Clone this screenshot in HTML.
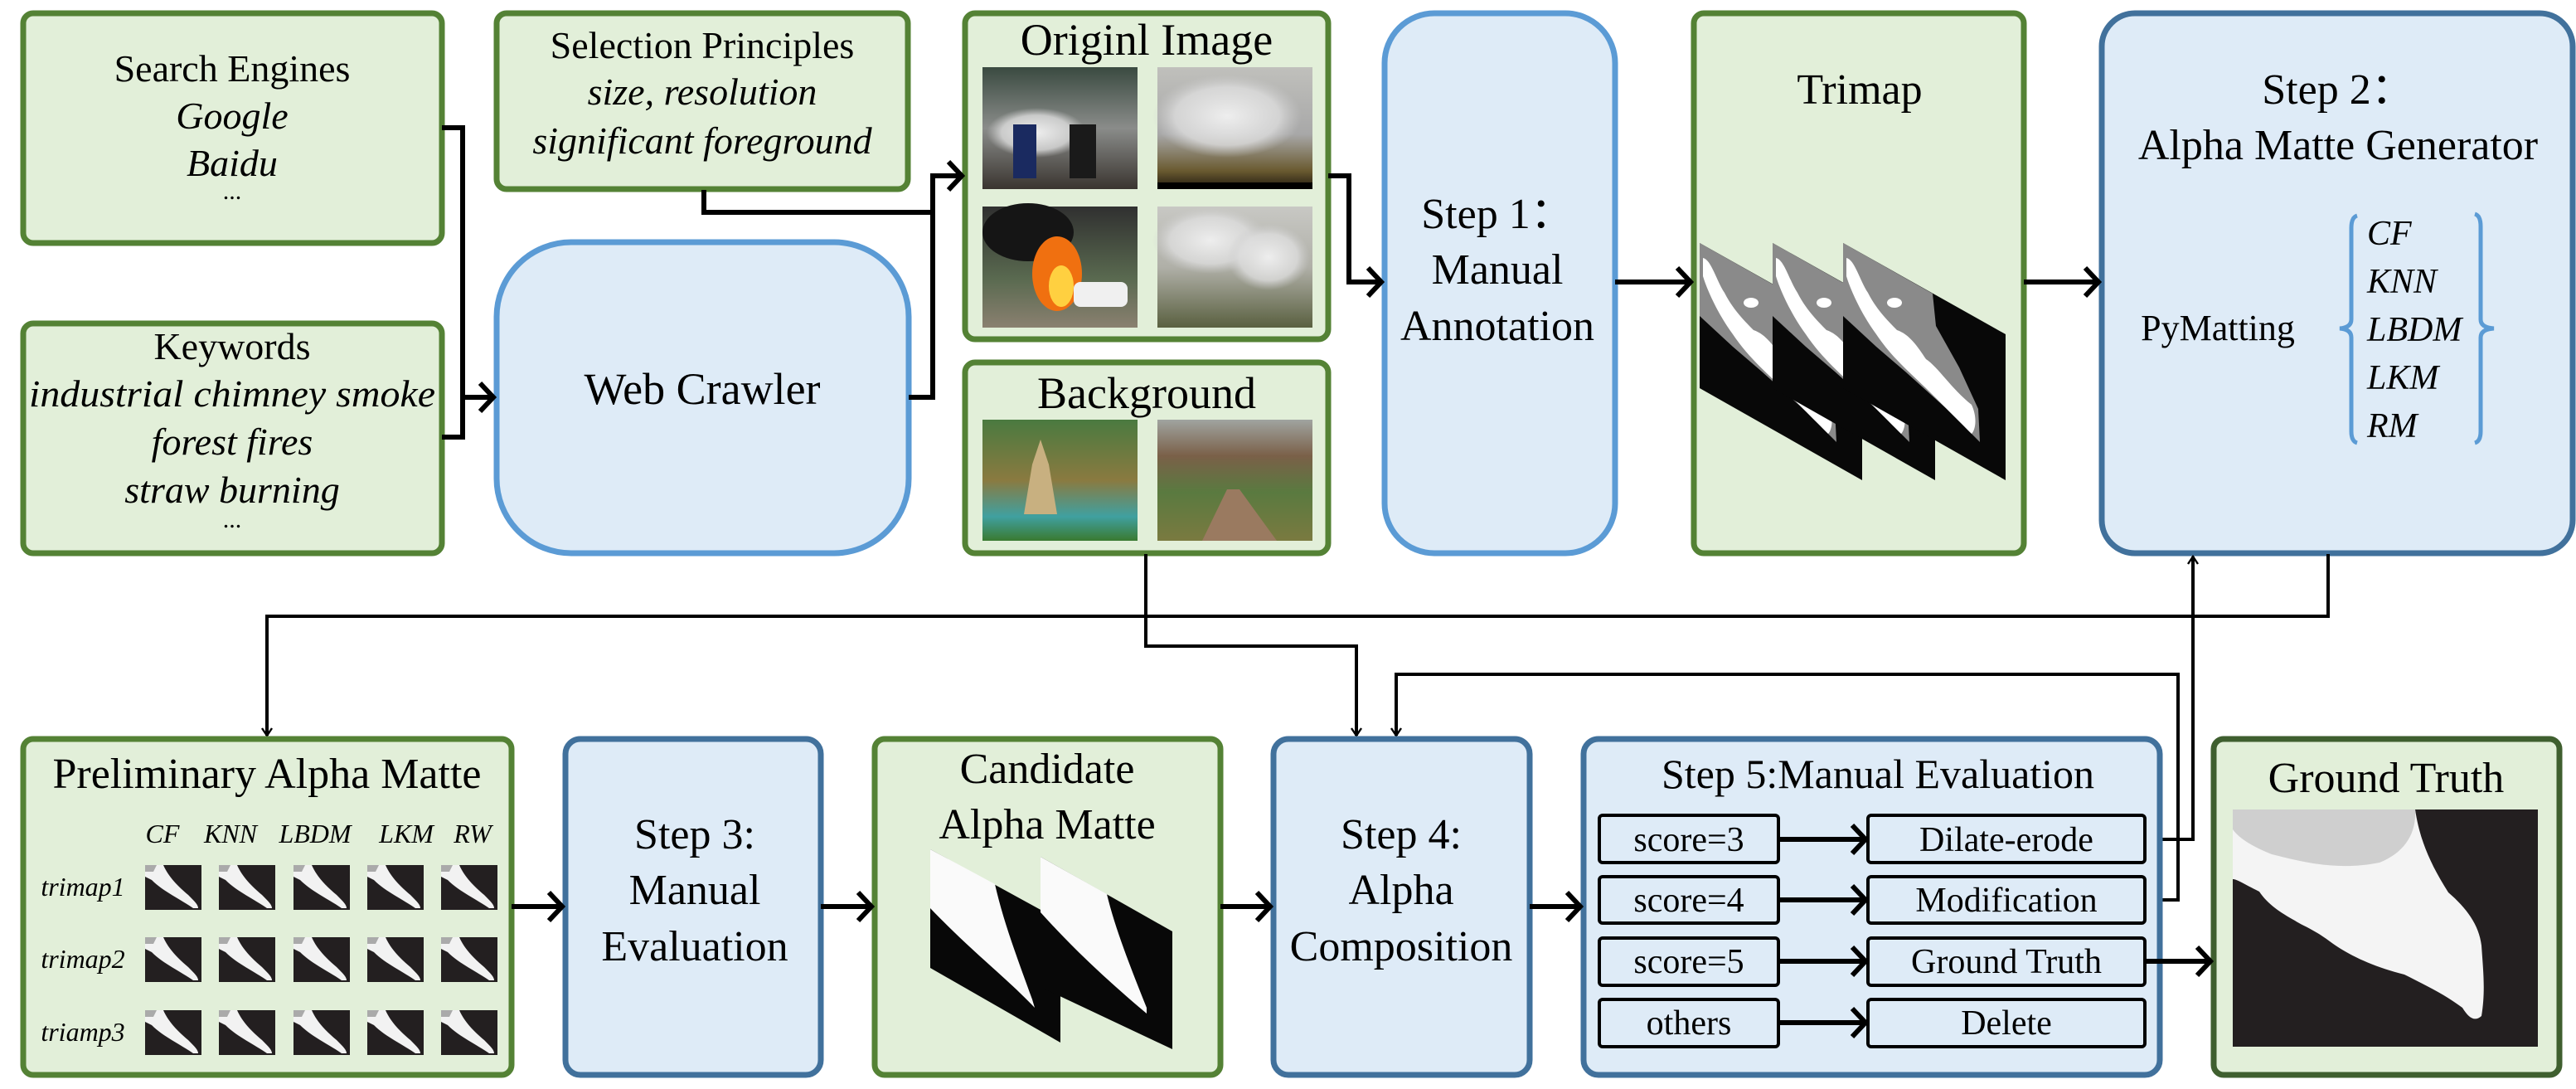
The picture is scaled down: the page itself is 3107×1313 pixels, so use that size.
<!DOCTYPE html>
<html><head><meta charset="utf-8"><style>
html,body{margin:0;padding:0;background:#fff;}
svg{display:block;}
svg text{font-family:"Liberation Serif","DejaVu Serif","Times New Roman",serif;fill:#000;}
</style></head><body>
<svg width="3107" height="1313" viewBox="0 0 3107 1313" xmlns="http://www.w3.org/2000/svg" font-family="Liberation Serif, DejaVu Serif, serif">
<defs>
<marker id="ar" markerWidth="12" markerHeight="14" refX="10" refY="7" orient="auto" markerUnits="userSpaceOnUse" viewBox="0 0 12 14">
<polyline points="1,1 10,7 1,13" fill="none" stroke="#000" stroke-width="2.4"/>
</marker>
<marker id="arB" markerWidth="24" markerHeight="40" refX="20" refY="20" orient="auto" markerUnits="userSpaceOnUse">
<polyline points="4,3 20,20 4,37" fill="none" stroke="#000" stroke-width="6"/>
</marker>
<linearGradient id="g1" x1="0" y1="0" x2="0" y2="1"><stop offset="0" stop-color="#3a4a40"/><stop offset=".5" stop-color="#8a8c8a"/><stop offset="1" stop-color="#3a3530"/></linearGradient>
<linearGradient id="g2" x1="0" y1="0" x2="0" y2="1"><stop offset="0" stop-color="#c0c0bc"/><stop offset=".55" stop-color="#a8a8a8"/><stop offset=".85" stop-color="#6a5a30"/><stop offset="1" stop-color="#201a10"/></linearGradient>
<linearGradient id="g3" x1="0" y1="0" x2="0" y2="1"><stop offset="0" stop-color="#303030"/><stop offset=".6" stop-color="#5a6a50"/><stop offset="1" stop-color="#8a8070"/></linearGradient>
<linearGradient id="g4" x1="0" y1="0" x2="0" y2="1"><stop offset="0" stop-color="#c8c8c4"/><stop offset=".5" stop-color="#b0b0a8"/><stop offset="1" stop-color="#5a6040"/></linearGradient>
<linearGradient id="bg1" x1="0" y1="0" x2="0" y2="1"><stop offset="0" stop-color="#4a7a40"/><stop offset=".5" stop-color="#8a7a40"/><stop offset=".8" stop-color="#40a0a0"/><stop offset="1" stop-color="#3a7a30"/></linearGradient>
<linearGradient id="bg2" x1="0" y1="0" x2="0" y2="1"><stop offset="0" stop-color="#a0a4a0"/><stop offset=".3" stop-color="#7a6048"/><stop offset=".6" stop-color="#5a7a40"/><stop offset="1" stop-color="#7a7a40"/></linearGradient>
<radialGradient id="sm" cx=".5" cy=".5" r=".5"><stop offset="0" stop-color="#eeeeee"/><stop offset=".7" stop-color="#dddddd" stop-opacity=".8"/><stop offset="1" stop-color="#cccccc" stop-opacity="0"/></radialGradient>
<g id="tp">
<polygon points="0,0 196,110 196,286 0,175" fill="#080808"/>
<polygon points="0,0 108,61 112,100 140,150 163,200 165,240 125,200 75,155 40,125 0,88" fill="#8a8a8a"/>
<path d="M4,18 C14,20 20,45 30,60 C40,80 55,95 65,105 C80,110 90,125 100,140 C115,150 130,175 155,195 C162,210 160,225 155,230 C140,215 120,195 105,180 C85,160 60,140 40,110 C25,90 10,60 4,40Z" fill="#fff"/>
<ellipse cx="62" cy="72" rx="9" ry="6" fill="#fff"/>
</g>
<g id="th">
<rect width="68" height="54" fill="#231f20"/>
<path d="M0,0 L22,0 C28,14 40,26 52,36 C60,44 64,48 64,52 L58,52 C44,42 22,32 8,18 L0,14Z" fill="#f2f2f2"/>
<path d="M0,0 L14,0 L10,8 L0,8Z" fill="#aaa"/>
</g>
</defs>

<!-- ===== Top row ===== -->
<rect x="28" y="16" width="505" height="277" rx="12" fill="#e2efd9" stroke="#548235" stroke-width="7"/>
<text x="280" y="98" font-size="46" text-anchor="middle">Search Engines</text>
<text x="280" y="155" font-size="46" text-anchor="middle" font-style="italic">Google</text>
<text x="280" y="212" font-size="46" text-anchor="middle" font-style="italic">Baidu</text>
<text x="280" y="240" font-size="30" text-anchor="middle">...</text>

<rect x="28" y="390" width="505" height="277" rx="12" fill="#e2efd9" stroke="#548235" stroke-width="7"/>
<text x="280" y="433" font-size="46" text-anchor="middle">Keywords</text>
<text x="280" y="490" font-size="46" text-anchor="middle" font-style="italic" textLength="490" lengthAdjust="spacingAndGlyphs">industrial chimney smoke</text>
<text x="280" y="548" font-size="46" text-anchor="middle" font-style="italic">forest fires</text>
<text x="280" y="606" font-size="46" text-anchor="middle" font-style="italic">straw burning</text>
<text x="280" y="636" font-size="30" text-anchor="middle">...</text>

<rect x="599" y="16" width="496" height="212" rx="12" fill="#e2efd9" stroke="#548235" stroke-width="7"/>
<text x="847" y="70" font-size="46" text-anchor="middle">Selection Principles</text>
<text x="847" y="126" font-size="46" text-anchor="middle" font-style="italic">size, resolution</text>
<text x="847" y="185" font-size="46" text-anchor="middle" font-style="italic">significant foreground</text>

<rect x="599" y="292" width="497" height="375" rx="90" fill="#deebf7" stroke="#5b9bd5" stroke-width="7"/>
<text x="847" y="487" font-size="54" text-anchor="middle">Web Crawler</text>

<!-- Original image -->
<rect x="1164" y="16" width="438" height="393" rx="12" fill="#e2efd9" stroke="#548235" stroke-width="7"/>
<text x="1383" y="66" font-size="54" text-anchor="middle">Originl Image</text>
<rect x="1185" y="81" width="187" height="147" fill="url(#g1)"/>
<ellipse cx="1250" cy="160" rx="60" ry="30" fill="url(#sm)"/>
<rect x="1222" y="150" width="28" height="65" fill="#1a2a60"/><rect x="1290" y="150" width="32" height="65" fill="#1a1a1a"/>
<rect x="1396" y="81" width="187" height="147" fill="url(#g2)"/>
<ellipse cx="1480" cy="140" rx="90" ry="50" fill="url(#sm)"/>
<rect x="1396" y="220" width="187" height="8" fill="#000"/>
<rect x="1185" y="249" width="187" height="146" fill="url(#g3)"/>
<ellipse cx="1240" cy="280" rx="55" ry="35" fill="#151515"/>
<ellipse cx="1275" cy="330" rx="30" ry="45" fill="#f07010"/>
<ellipse cx="1280" cy="345" rx="15" ry="25" fill="#ffd040"/>
<rect x="1295" y="340" width="65" height="30" rx="8" fill="#f0f0f0"/>
<rect x="1396" y="249" width="187" height="146" fill="url(#g4)"/>
<ellipse cx="1460" cy="290" rx="70" ry="40" fill="url(#sm)"/>
<ellipse cx="1530" cy="310" rx="50" ry="40" fill="url(#sm)"/>

<!-- Background -->
<rect x="1164" y="437" width="438" height="230" rx="12" fill="#e2efd9" stroke="#548235" stroke-width="7"/>
<text x="1383" y="492" font-size="54" text-anchor="middle">Background</text>
<rect x="1185" y="506" width="187" height="146" fill="url(#bg1)"/>
<polygon points="1245,560 1255,530 1265,560 1275,620 1235,620" fill="#c8b080"/>
<rect x="1396" y="506" width="187" height="146" fill="url(#bg2)"/>
<polygon points="1450,652 1480,590 1495,590 1540,652" fill="#9a7a60"/>

<!-- Step 1 -->
<rect x="1670" y="16" width="278" height="651" rx="60" fill="#deebf7" stroke="#5b9bd5" stroke-width="7"/>
<text x="1806" y="275" font-size="52" text-anchor="middle">Step 1：</text>
<text x="1806" y="342" font-size="52" text-anchor="middle">Manual</text>
<text x="1806" y="410" font-size="52" text-anchor="middle">Annotation</text>

<!-- Trimap -->
<rect x="2043" y="16" width="398" height="651" rx="12" fill="#e2efd9" stroke="#548235" stroke-width="7"/>
<text x="2243" y="125" font-size="52" text-anchor="middle">Trimap</text>
<use href="#tp" x="2050" y="293"/>
<use href="#tp" x="2138" y="293"/>
<use href="#tp" x="2223" y="293"/>

<!-- Step 2 -->
<rect x="2535" y="16" width="568" height="651" rx="40" fill="#deebf7" stroke="#41719c" stroke-width="7"/>
<text x="2820" y="125" font-size="52" text-anchor="middle">Step 2：</text>
<text x="2820" y="192" font-size="52" text-anchor="middle">Alpha Matte Generator</text>
<text x="2675" y="410" font-size="44" text-anchor="middle">PyMatting</text>
<path d="M2843,260 Q2836,262 2836,275 L2836,385 Q2836,395 2822,396 Q2836,397 2836,407 L2836,520 Q2836,532 2843,534" fill="none" stroke="#5b9bd5" stroke-width="5"/>
<path d="M2985,258 Q2992,260 2992,273 L2992,385 Q2992,395 3008,396 Q2992,397 2992,407 L2992,520 Q2992,532 2985,534" fill="none" stroke="#5b9bd5" stroke-width="5"/>
<text x="2855" y="295" font-size="42" font-style="italic">CF</text>
<text x="2855" y="353" font-size="42" font-style="italic">KNN</text>
<text x="2855" y="411" font-size="42" font-style="italic">LBDM</text>
<text x="2855" y="469" font-size="42" font-style="italic">LKM</text>
<text x="2855" y="527" font-size="42" font-style="italic">RM</text>

<!-- ===== Top connectors ===== -->
<polyline points="533,154 558,154 558,527 533,527" fill="none" stroke="#000" stroke-width="6"/>
<line x1="558" y1="479" x2="595" y2="479" stroke="#000" stroke-width="6" marker-end="url(#arB)"/>
<polyline points="849,229 849,256 1125,256" fill="none" stroke="#000" stroke-width="6"/>
<polyline points="1096,479 1125,479 1125,212 1160,212" fill="none" stroke="#000" stroke-width="6" marker-end="url(#arB)"/>
<polyline points="1602,212 1627,212 1627,340 1666,340" fill="none" stroke="#000" stroke-width="6" marker-end="url(#arB)"/>
<line x1="1948" y1="340" x2="2039" y2="340" stroke="#000" stroke-width="6" marker-end="url(#arB)"/>
<line x1="2441" y1="340" x2="2531" y2="340" stroke="#000" stroke-width="6" marker-end="url(#arB)"/>

<!-- ===== Middle connectors ===== -->
<polyline points="2808,668 2808,743 322,743 322,887" fill="none" stroke="#000" stroke-width="4" marker-end="url(#ar)"/>
<polyline points="1382,668 1382,779 1636,779 1636,887" fill="none" stroke="#000" stroke-width="4" marker-end="url(#ar)"/>
<polyline points="2590,1085 2627,1085 2627,813 1684,813 1684,887" fill="none" stroke="#000" stroke-width="4" marker-end="url(#ar)"/>
<polyline points="2590,1012 2645,1012 2645,671" fill="none" stroke="#000" stroke-width="4" marker-end="url(#ar)"/>

<!-- ===== Bottom row ===== -->
<rect x="28" y="891" width="589" height="405" rx="12" fill="#e2efd9" stroke="#548235" stroke-width="7"/>
<text x="322" y="950" font-size="52" text-anchor="middle">Preliminary Alpha Matte</text>
<text x="196" y="1016" font-size="32" font-style="italic" text-anchor="middle">CF</text>
<text x="278" y="1016" font-size="32" font-style="italic" text-anchor="middle">KNN</text>
<text x="380" y="1016" font-size="32" font-style="italic" text-anchor="middle">LBDM</text>
<text x="490" y="1016" font-size="32" font-style="italic" text-anchor="middle">LKM</text>
<text x="570" y="1016" font-size="32" font-style="italic" text-anchor="middle">RW</text>
<text x="100" y="1080" font-size="32" font-style="italic" text-anchor="middle">trimap1</text>
<text x="100" y="1167" font-size="32" font-style="italic" text-anchor="middle">trimap2</text>
<text x="100" y="1255" font-size="32" font-style="italic" text-anchor="middle">triamp3</text>
<use href="#th" x="175" y="1043"/><use href="#th" x="264" y="1043"/><use href="#th" x="354" y="1043"/><use href="#th" x="443" y="1043"/><use href="#th" x="532" y="1043"/>
<use href="#th" x="175" y="1130"/><use href="#th" x="264" y="1130"/><use href="#th" x="354" y="1130"/><use href="#th" x="443" y="1130"/><use href="#th" x="532" y="1130"/>
<use href="#th" x="175" y="1218"/><use href="#th" x="264" y="1218"/><use href="#th" x="354" y="1218"/><use href="#th" x="443" y="1218"/><use href="#th" x="532" y="1218"/>

<rect x="682" y="891" width="308" height="405" rx="18" fill="#deebf7" stroke="#41719c" stroke-width="7"/>
<text x="838" y="1023" font-size="52" text-anchor="middle">Step 3:</text>
<text x="838" y="1090" font-size="52" text-anchor="middle">Manual</text>
<text x="838" y="1158" font-size="52" text-anchor="middle">Evaluation</text>

<rect x="1055" y="891" width="417" height="405" rx="12" fill="#e2efd9" stroke="#548235" stroke-width="7"/>
<text x="1263" y="944" font-size="52" text-anchor="middle">Candidate</text>
<text x="1263" y="1011" font-size="52" text-anchor="middle">Alpha Matte</text>
<polygon points="1122,1024 1279,1110 1279,1257 1122,1167" fill="#080808"/>
<path d="M1122,1024 L1200,1066 C1210,1110 1225,1150 1245,1205 L1248,1215 C1215,1180 1175,1150 1122,1095Z" fill="#fafafa"/>
<polygon points="1255,1033 1414,1123 1414,1265 1255,1190" fill="#080808"/>
<path d="M1255,1033 L1335,1078 C1345,1120 1365,1170 1383,1215 L1383,1222 C1345,1190 1300,1150 1255,1100Z" fill="#fafafa"/>

<rect x="1536" y="891" width="309" height="405" rx="18" fill="#deebf7" stroke="#41719c" stroke-width="7"/>
<text x="1690" y="1023" font-size="52" text-anchor="middle">Step 4:</text>
<text x="1690" y="1090" font-size="52" text-anchor="middle">Alpha</text>
<text x="1690" y="1158" font-size="52" text-anchor="middle">Composition</text>

<rect x="1910" y="891" width="695" height="405" rx="18" fill="#deebf7" stroke="#41719c" stroke-width="7"/>
<text x="2265" y="950" font-size="50" text-anchor="middle">Step 5:Manual Evaluation</text>
<g fill="#deebf7" stroke="#000" stroke-width="4">
<rect x="1929" y="983" width="216" height="57" rx="4"/><rect x="2253" y="983" width="334" height="57" rx="4"/>
<rect x="1929" y="1057" width="216" height="56" rx="4"/><rect x="2253" y="1057" width="334" height="56" rx="4"/>
<rect x="1929" y="1131" width="216" height="57" rx="4"/><rect x="2253" y="1131" width="334" height="57" rx="4"/>
<rect x="1929" y="1205" width="216" height="57" rx="4"/><rect x="2253" y="1205" width="334" height="57" rx="4"/>
</g>
<g font-size="42" text-anchor="middle">
<text x="2037" y="1026">score=3</text><text x="2420" y="1026">Dilate-erode</text>
<text x="2037" y="1099">score=4</text><text x="2420" y="1099">Modification</text>
<text x="2037" y="1173">score=5</text><text x="2420" y="1173">Ground Truth</text>
<text x="2037" y="1247">others</text><text x="2420" y="1247">Delete</text>
</g>
<g stroke="#000" stroke-width="6">
<line x1="2145" y1="1012" x2="2250" y2="1012" marker-end="url(#arB)"/>
<line x1="2145" y1="1085" x2="2250" y2="1085" marker-end="url(#arB)"/>
<line x1="2145" y1="1159" x2="2250" y2="1159" marker-end="url(#arB)"/>
<line x1="2145" y1="1233" x2="2250" y2="1233" marker-end="url(#arB)"/>
</g>

<rect x="2670" y="891" width="417" height="405" rx="12" fill="#e2efd9" stroke="#3f5f2f" stroke-width="7"/>
<text x="2878" y="955" font-size="52" text-anchor="middle">Ground Truth</text>
<rect x="2693" y="976" width="368" height="286" fill="#231f20"/>
<path d="M2693,976 L2913,976 C2918,1010 2930,1040 2953,1076 C2975,1095 2990,1115 2993,1140 C2995,1170 2998,1195 2993,1225 C2985,1232 2978,1228 2970,1215 C2950,1200 2930,1190 2900,1175 C2860,1165 2830,1150 2810,1135 C2790,1120 2775,1115 2768,1110 C2750,1100 2735,1090 2725,1075 C2705,1065 2698,1060 2693,1060Z" fill="#f4f4f4"/>
<path d="M2693,976 L2913,976 C2915,1010 2895,1030 2870,1040 C2820,1050 2780,1040 2740,1030 C2715,1020 2700,1010 2693,1000Z" fill="#cfcfcf"/>

<!-- Bottom arrows -->
<g stroke="#000" stroke-width="6">
<line x1="617" y1="1093" x2="678" y2="1093" marker-end="url(#arB)"/>
<line x1="990" y1="1093" x2="1051" y2="1093" marker-end="url(#arB)"/>
<line x1="1472" y1="1093" x2="1532" y2="1093" marker-end="url(#arB)"/>
<line x1="1845" y1="1093" x2="1906" y2="1093" marker-end="url(#arB)"/>
<line x1="2587" y1="1159" x2="2666" y2="1159" marker-end="url(#arB)"/>
</g>
</svg>
</body></html>
